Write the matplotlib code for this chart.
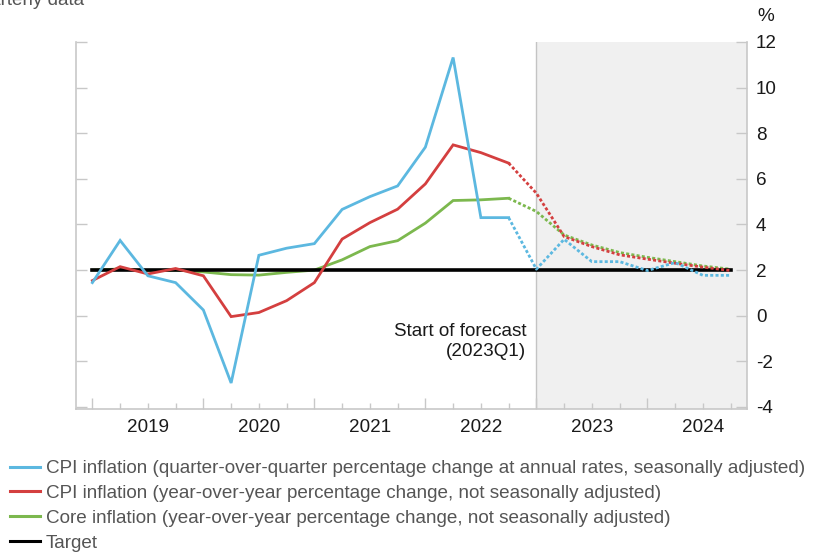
import matplotlib
matplotlib.use("Agg")
import matplotlib.pyplot as plt
from matplotlib.lines import Line2D
import numpy as np

plt.rcParams['font.family'] = ['Liberation Sans', 'DejaVu Sans']

# quarters 2019Q1 .. 2024Q4
quarters = [f"{y}Q{q}" for y in range(2019, 2025) for q in range(1, 5)]
years = ["2019", "2020", "2021", "2022", "2023", "2024"]

cpi_qoq = [1.45, 3.3, 1.75, 1.45, 0.25, -2.95, 2.65, 2.96, 3.16, 4.66, 5.22, 5.69,
           7.39, 11.32, 4.3, 4.3, 2.04, 3.35, 2.37, 2.37, 1.98, 2.33, 1.77, 1.77]
cpi_yoy = [1.54, 2.15, 1.83, 2.07, 1.75, -0.04, 0.14, 0.66, 1.45, 3.36, 4.08, 4.67,
           5.78, 7.49, 7.15, 6.69, 5.37, 3.47, 3.03, 2.67, 2.48, 2.3, 2.13, 1.98]
core = [2.0, 2.05, 1.98, 2.0, 1.92, 1.8, 1.78, 1.9, 2.0, 2.45, 3.03, 3.29,
        4.06, 5.05, 5.08, 5.15, 4.57, 3.54, 3.1, 2.77, 2.56, 2.37, 2.18, 2.04]
target = [2.0] * 24
forecast_start = 16  # index of 2023Q1
last_actual = 15     # 2022Q4

blue = '#5cb8e0'
red = '#d43f3f'
green = '#7cb84e'

FS = 13.6

fig = plt.figure(figsize=(8.18, 5.52), dpi=100)
W, H = 818, 552
ax = fig.add_axes([76 / W, 1 - 409 / H, (747 - 76) / W, (409 - 42) / H])

x = np.arange(len(quarters))
ax.set_xlim(-0.59, 23.59)
ax.set_ylim(-4.09, 12)

# forecast shading
ax.axvspan(forecast_start, 23.59, color='#f0f0f0', zorder=0, lw=0)
ax.axvline(forecast_start, color='#c4c4c4', lw=1.0, zorder=1)

lw = 2.0
dash = (0, (1.1, 0.8))

def plot_series(vals, color, z):
    ax.plot(x[:last_actual + 1], vals[:last_actual + 1], color=color, lw=lw, zorder=z,
            solid_joinstyle='miter')
    ax.plot(x[last_actual:], vals[last_actual:], color=color, lw=lw, zorder=z,
            linestyle=dash, dash_capstyle='butt')

plot_series(core, green, 2)
ax.plot(x, target, color='black', lw=2.6, zorder=3)
plot_series(cpi_yoy, red, 4)
plot_series(cpi_qoq, blue, 5)

# spines
for s in ['left', 'bottom', 'right']:
    ax.spines[s].set_color('#c8c8c8')
    ax.spines[s].set_linewidth(1.2)
ax.spines['top'].set_visible(False)

# y axis: ticks on both sides, labels right
yt = np.arange(-4, 13, 2)
ax.set_yticks(yt)
ax.set_yticklabels([str(v) for v in yt])
ax.tick_params(axis='y', which='both', direction='in', length=8, width=1.0,
               color='#c8c8c8', left=True, right=True, labelleft=False,
               labelright=True, labelsize=FS, labelcolor='#1a1a1a', pad=6.5)

# x axis: major ticks at year starts, minor at quarters
ax.set_xticks(np.arange(0, 24, 4))
ax.set_xticks(np.arange(0, 24), minor=True)
ax.tick_params(axis='x', which='major', direction='in', length=8, width=1.0,
               color='#c8c8c8', labelbottom=False)
ax.tick_params(axis='x', which='minor', direction='in', length=4.5, width=1.0,
               color='#c8c8c8')
for k, yr in enumerate(years):
    ax.text(4 * k + 2, -0.05, yr, transform=ax.get_xaxis_transform(),
            ha='center', va='center', fontsize=FS, color='#1a1a1a')

ax.text(1.0 + 10 / 671, 1.07, '%', transform=ax.transAxes, ha='left', va='center',
        fontsize=FS, color='#1a1a1a')

ax.text(forecast_start - 0.37, -0.3, 'Start of forecast\n(2023Q1)', ha='right', va='top',
        fontsize=FS, color='#1a1a1a', linespacing=1.3)

fig.text(84 / W, 1 - 5 / H, 'Quarterly data', ha='right', va='baseline',
         fontsize=FS, color='#555555')

handles = [Line2D([], [], color=blue, lw=2.2),
           Line2D([], [], color=red, lw=2.2),
           Line2D([], [], color=green, lw=2.2),
           Line2D([], [], color='black', lw=2.2)]
labels = ['CPI inflation (quarter-over-quarter percentage change at annual rates, seasonally adjusted)',
          'CPI inflation (year-over-year percentage change, not seasonally adjusted)',
          'Core inflation (year-over-year percentage change, not seasonally adjusted)',
          'Target']
leg = fig.legend(handles, labels, loc='upper left', bbox_to_anchor=(10 / W, 1 - 460 / H),
                 frameon=False, fontsize=FS, handlelength=1.6, handletextpad=0.28,
                 labelspacing=0.4, borderpad=0, borderaxespad=0)
for t in leg.get_texts():
    t.set_color('#555555')

fig.savefig('out.png', dpi=100)
